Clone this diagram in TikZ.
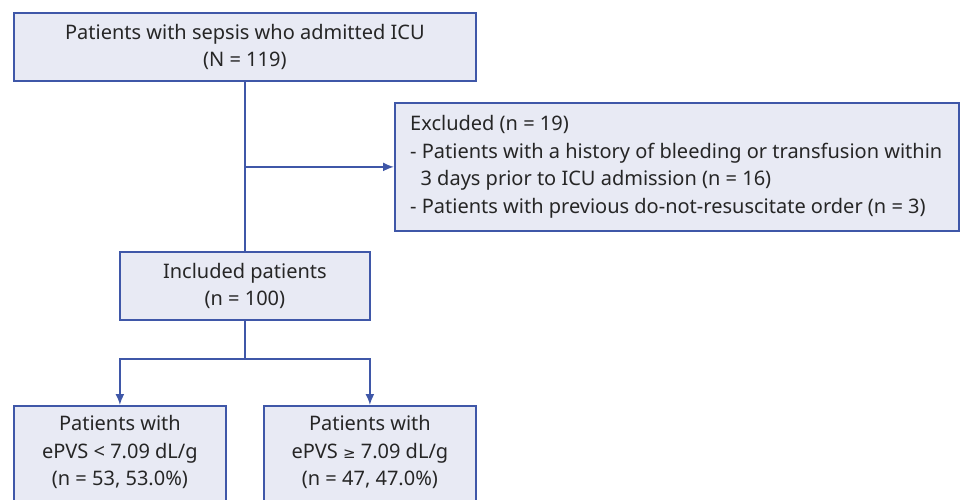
\documentclass[tikz,border=0pt]{standalone}
\usepackage{fontspec}
\setmainfont{Noto Sans}
\newfontfamily\symfont{DejaVu Sans}
\usetikzlibrary{arrows.meta,positioning,calc}
\definecolor{boxfill}{HTML}{E8EAF4}
\definecolor{boxline}{HTML}{3F57A8}
\definecolor{txt}{HTML}{262626}
\tikzset{
  box/.style={draw=boxline, fill=boxfill, line width=1.8pt, inner sep=0pt, anchor=north west},
  lbl/.style={text=txt, font=\fontsize{20}{27.5}\selectfont, inner sep=0pt},
  conn/.style={draw=boxline, line width=1.8pt},
  arr/.style={conn, -{Latex[length=11pt,width=9pt]}},
}
\begin{document}
\begin{tikzpicture}[x=1pt,y=-1pt]
\useasboundingbox (0,0) rectangle (966,499);
\clip (0,0) rectangle (966,499);
% boxes
\node[box, minimum width=462pt, minimum height=68pt] (top) at (13,12) {};
\node[lbl, align=center] (toptxt) at (top.center) {Patients with sepsis who admitted ICU\\(N = 119)};
\node[box, minimum width=564pt, minimum height=128pt] (excl) at (394,102) {};
\node[lbl, align=left, anchor=west] (excltxt) at ($(excl.west)+(16pt,0)$) {Excluded (n = 19)\\- Patients with a history of bleeding or transfusion within\\\ \ 3 days prior to ICU admission (n = 16)\\- Patients with previous do-not-resuscitate order (n = 3)};
\node[box, minimum width=250pt, minimum height=68pt] (inc) at (119,251) {};
\node[lbl, align=center] (inctxt) at (inc.center) {Included patients\\(n = 100)};
\node[box, minimum width=212pt, minimum height=110pt] (lo) at (13,405) {};
\node[lbl, align=center] (lotxt) at ($(lo.north)+(0,-47pt)$) {Patients with\\ePVS < 7.09 dL/g\\(n = 53, 53.0\%)};
\node[box, minimum width=212pt, minimum height=110pt] (hi) at (263,405) {};
\node[lbl, align=center] (hitxt) at ($(hi.north)+(0,-47pt)$) {Patients with\\ePVS {\symfont\fontsize{15}{15}\selectfont ≥} 7.09 dL/g\\(n = 47, 47.0\%)};
% connectors
\draw[conn] (top.south) -- (inc.north);
\draw[arr] (top.south |- excl.west) -- (excl.west);
\coordinate (split) at ($(inc.south)+(0,-38pt)$);
\draw[conn] (inc.south) -- (split);
\draw[arr] (split) -| (lo.north);
\draw[arr] (split) -| (hi.north);
\end{tikzpicture}
\end{document}
